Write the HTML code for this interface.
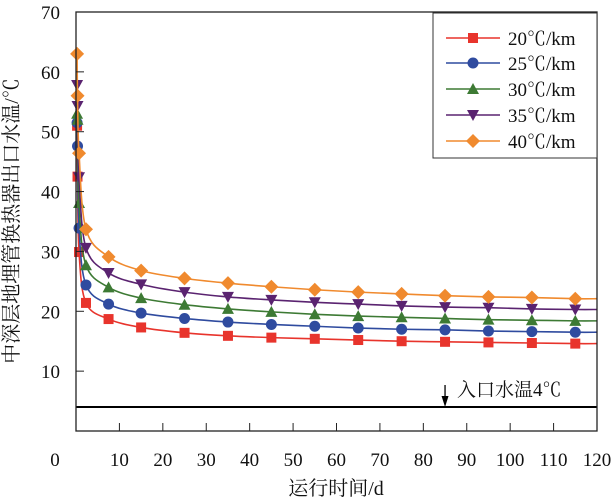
<!DOCTYPE html>
<html><head><meta charset="utf-8"><style>
body{margin:0;background:#fff}
svg{display:block}
text{font-family:"Liberation Serif","Noto Serif CJK SC",serif;fill:#111}
</style></head><body>
<svg id="chart" width="614" height="502" xmlns="http://www.w3.org/2000/svg">
<g id="plot"></g>
</svg>
<script>
const days = [0.25,0.35,0.7,2.3,7.5,15,25,35,45,55,65,75,85,95,105,115];
const seriesNames = ["20℃/km","25℃/km","30℃/km","35℃/km","40℃/km"];
const s20 = [51,42.5,29.9,21.4,18.7,17.3,16.4,15.9,15.6,15.4,15.2,15.0,14.9,14.8,14.7,14.6];
const s25 = [51.5,47.6,33.9,24.4,21.2,19.7,18.8,18.2,17.8,17.5,17.2,17.0,16.9,16.7,16.6,16.5];
const s30 = [53,52,38.1,27.7,24.0,22.2,21.1,20.4,19.9,19.5,19.2,19.0,18.8,18.6,18.5,18.4];
const s35 = [57.8,54.3,42.4,30.6,26.4,24.5,23.2,22.4,21.9,21.5,21.2,20.9,20.7,20.6,20.4,20.3];
const s40 = [63,56,46.4,33.7,29.1,26.8,25.5,24.7,24.1,23.6,23.2,22.9,22.6,22.4,22.3,22.1];
const xTicks = [0,10,20,30,40,50,60,70,80,90,100,110,120];
const yTicks = [0,10,20,30,40,50,60,70];
const inletTemp = 4;

const colors=["#e8342c","#2f4b9f","#3d7a34","#5a2370","#f08a2e"];
const markers=["square","circle","tri","dtri","diamond"];
const X0=76,X1=597,Y0=431,Y1=12;
const sx=v=>X0+(v-0)*(X1-X0)/120;
const sy=v=>Y0-(v-0)*(Y0-Y1)/70;
const NS="http://www.w3.org/2000/svg";
const g=document.getElementById('plot');
function el(t,a,p){const e=document.createElementNS(NS,t);for(const k in a)e.setAttribute(k,a[k]);(p||g).appendChild(e);return e;}

let bl=el('line',{x1:X0,x2:X1,y1:sy(inletTemp),y2:sy(inletTemp),stroke:'#000','stroke-width':2});


let ar=el('line',{x1:sx(85),x2:sx(85),y1:385,y2:404,stroke:'#000','stroke-width':1.3});


let ah=el('path',{d:`M${sx(85)-3.5},396 L${sx(85)},407 L${sx(85)+3.5},396 Z`,fill:'#000'});


let at=el('text',{x:457,y:396,'font-size':19});
at.textContent='入口水温4℃';



function smooth(pts){
  let d=`M${pts[0][0]},${pts[0][1]}`;
  for(let i=0;i<pts.length-1;i++){
    const p0=pts[Math.max(0,i-1)],p1=pts[i],p2=pts[i+1],p3=pts[Math.min(pts.length-1,i+2)];
    const c1=[p1[0]+(p2[0]-p0[0])/6,p1[1]+(p2[1]-p0[1])/6];
    const c2=[p2[0]-(p3[0]-p1[0])/6,p2[1]-(p3[1]-p1[1])/6];
    d+=` C${c1[0]},${c1[1]} ${c2[0]},${c2[1]} ${p2[0]},${p2[1]}`;
  }
  return d;
}
function marker(type,x,y,c,parent){
  let m;
  if(type==='square')m=el('rect',{x:x-5,y:y-5,width:10,height:10,fill:c},parent);
  else if(type==='circle')m=el('circle',{cx:x,cy:y,r:5.5,fill:c},parent);
  else if(type==='tri')m=el('path',{d:`M${x},${y-6} L${x+6},${y+5} L${x-6},${y+5}Z`,fill:c},parent);
  else if(type==='dtri')m=el('path',{d:`M${x},${y+6} L${x+6},${y-5} L${x-6},${y-5}Z`,fill:c},parent);
  else m=el('path',{d:`M${x},${y-7} L${x+7},${y} L${x},${y+7} L${x-7},${y}Z`,fill:c},parent);
  return m;
}
const allSeries=[s20,s25,s30,s35,s40];
allSeries.forEach((s,i)=>{
  const grp=el('g',{});
  
  
  const pts=days.map((d,j)=>[sx(d),sy(s[j])]);
  pts.push([sx(120),sy(s[s.length-1])]);
  const p=el('path',{d:smooth(pts),fill:'none',stroke:colors[i],'stroke-width':1.6},grp);
  
  
  days.forEach((d,j)=>{
    const m=marker(markers[i],sx(d),sy(s[j]),colors[i],grp);
    
    
  });
});

let fr=el('rect',{x:X0,y:Y1,width:X1-X0,height:Y0-Y1,fill:'none',stroke:'#222','stroke-width':1.3});


xTicks.forEach(t=>{
  if(t>0&&t<120){
    const tk=el('line',{x1:sx(t),x2:sx(t),y1:Y0,y2:Y0-8,stroke:'#222','stroke-width':1});
    
    
  }
  const lb=el('text',{x:t===0?55:sx(t),y:466,'font-size':19,'text-anchor':'middle'});
  lb.textContent=t;
  
  
});
yTicks.forEach(t=>{
  if(t>0&&t<70){
    const tk=el('line',{x1:X0,x2:X0+8,y1:sy(t),y2:sy(t),stroke:'#222','stroke-width':1});
    
    
  }
  if(t>0){
    const lb=el('text',{x:60,y:sy(t)+7,'font-size':19,'text-anchor':'end'});
    lb.textContent=t;
    
    
  }
});
let xt=el('text',{x:336,y:495,'font-size':20,'text-anchor':'middle'});
xt.textContent='运行时间/d';


let yt=el('text',{x:0,y:0,'font-size':20,'text-anchor':'middle',transform:'translate(18,221) rotate(-90)'});
yt.textContent='中深层地埋管换热器出口水温/℃';



const lg=el('g',{});


el('rect',{x:433,y:13,width:164,height:145,fill:'#fff',stroke:'#333','stroke-width':1},lg);
const ly=[38,63,89,115,141];
seriesNames.forEach((n,i)=>{
  const e=el('g',{},lg);
  
  
  el('line',{x1:446,x2:500,y1:ly[i],y2:ly[i],stroke:colors[i],'stroke-width':1.6},e);
  marker(markers[i],473,ly[i],colors[i],e);
  const t=el('text',{x:508,y:ly[i]+7,'font-size':19},e);
  t.textContent=n;
});
</script>
</body></html>
